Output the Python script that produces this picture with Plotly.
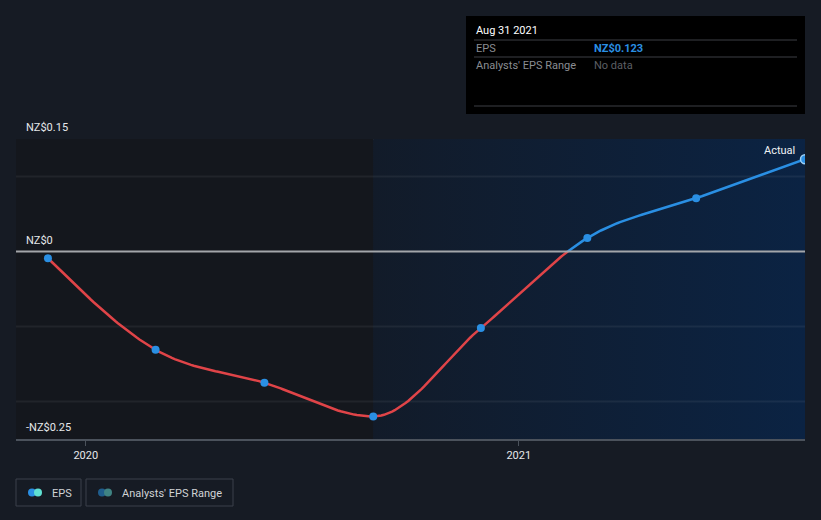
import numpy as np
import pandas as pd
import plotly.graph_objects as go

# ---- data ----
dates = ["2019-11-30", "2020-02-29", "2020-05-31", "2020-08-31",
         "2020-11-30", "2021-02-28", "2021-05-31", "2021-08-31"]
eps = [-0.009, -0.131, -0.175, -0.220, -0.102, 0.018, 0.071, 0.123]
x_ticks = ["2020-01-01", "2021-01-01"]
x_tick_text = ["2020", "2021"]
y_labels = [0.15, 0, -0.25]
y_label_text = ["NZ$0.15", "NZ$0", "-NZ$0.25"]
x_start = "2019-11-03"
forecast_start = "2020-08-31"

BG = "#161b24"
RED = "#e04448"
BLUE = "#2a8fe3"

dt = pd.to_datetime(dates)
t0 = pd.Timestamp(x_start)
xd = np.array([(d - t0).days for d in dt], dtype=float)
yv = np.array(eps, dtype=float)

# monotone cubic (d3 curveMonotoneX) in day space
n = len(xd)
h = np.diff(xd)
s = np.diff(yv) / h
m = np.zeros(n)
for i in range(1, n - 1):
    p = (s[i - 1] * h[i] + s[i] * h[i - 1]) / (h[i - 1] + h[i])
    m[i] = (np.sign(s[i - 1]) + np.sign(s[i])) * min(abs(s[i - 1]), abs(s[i]), 0.5 * abs(p))
m[0] = (3 * s[0] - m[1]) / 2
m[-1] = (3 * s[-1] - m[-2]) / 2

cx, cy = [], []
for i in range(n - 1):
    tt = np.linspace(0, 1, 40, endpoint=(i == n - 2))
    h00 = 2 * tt**3 - 3 * tt**2 + 1
    h10 = tt**3 - 2 * tt**2 + tt
    h01 = -2 * tt**3 + 3 * tt**2
    h11 = tt**3 - tt**2
    cx.extend(xd[i] + tt * h[i])
    cy.extend(h00 * yv[i] + h10 * h[i] * m[i] + h01 * yv[i + 1] + h11 * h[i] * m[i + 1])
cx = np.array(cx)
cy = np.array(cy)

# split at zero crossing
k = np.where((cy[:-1] < 0) & (cy[1:] >= 0))[0][0]
xz = cx[k] + (0 - cy[k]) * (cx[k + 1] - cx[k]) / (cy[k + 1] - cy[k])
red_x = list(cx[:k + 1]) + [xz]
red_y = list(cy[:k + 1]) + [0.0]
blue_x = [xz] + list(cx[k + 1:])
blue_y = [0.0] + list(cy[k + 1:])


def to_date(arr):
    return [t0 + pd.Timedelta(days=float(v)) for v in arr]


fig = go.Figure()

# forecast-side gradient background
fig.add_trace(go.Scatter(
    x=[forecast_start, dates[-1], dates[-1], forecast_start, forecast_start],
    y=[-0.25, -0.25, 0.15, 0.15, -0.25],
    mode="lines", line=dict(width=0), fill="toself",
    fillgradient=dict(type="horizontal",
                      colorscale=[[0, "#121b29"], [1, "#0b2343"]]),
    hoverinfo="skip", showlegend=False))

# gridlines drawn over the background
for gv in [0.1, -0.1, -0.2]:
    fig.add_trace(go.Scatter(x=[x_start, dates[-1]], y=[gv, gv], mode="lines",
                             line=dict(color="rgba(255,255,255,0.06)", width=2),
                             hoverinfo="skip", showlegend=False))

fig.add_trace(go.Scatter(x=to_date(red_x), y=red_y, mode="lines",
                         line=dict(color=RED, width=2.5), hoverinfo="skip",
                         showlegend=False))
fig.add_trace(go.Scatter(x=to_date(blue_x), y=blue_y, mode="lines",
                         line=dict(color=BLUE, width=2.5), hoverinfo="skip",
                         showlegend=False))
fig.add_trace(go.Scatter(x=dates[:-1], y=eps[:-1], mode="markers",
                         marker=dict(color=BLUE, size=8), showlegend=False))
fig.add_trace(go.Scatter(x=dates[-1:], y=eps[-1:], mode="markers",
                         marker=dict(color=BLUE, size=9,
                                     line=dict(color="#9fd0f5", width=1.5)),
                         showlegend=False))

shapes = [
    # historical darker region
    dict(type="rect", xref="x", yref="y", x0=x_start, x1=forecast_start,
         y0=-0.25, y1=0.15, fillcolor="#14171d", line=dict(width=0), layer="below"),
    dict(type="line", xref="paper", yref="y", x0=0, x1=1, y0=0.15, y1=0.15,
         line=dict(color="#4b525c", width=1.5), layer="below"),
    dict(type="line", xref="paper", yref="y", x0=0, x1=1, y0=0, y1=0,
         line=dict(color="#a3a6aa", width=2), layer="above"),
    # tooltip box
    dict(type="rect", xref="paper", yref="paper", x0=(466 - 16) / 789, x1=(805 - 16) / 789,
         y0=(439 - 114) / 300, y1=(439 - 16) / 300, fillcolor="#000000",
         line=dict(width=0)),
]
for yy in [40, 57, 106]:
    shapes.append(dict(type="line", xref="paper", yref="paper",
                       x0=(474 - 16) / 789, x1=(797 - 16) / 789,
                       y0=(439 - yy) / 300, y1=(439 - yy) / 300,
                       line=dict(color="#3c3f44", width=1)))
# legend boxes
for x0p, x1p in [(16, 81), (86, 233)]:
    shapes.append(dict(type="rect", xref="paper", yref="paper",
                       x0=(x0p - 16) / 789, x1=(x1p - 16) / 789,
                       y0=(439 - 506) / 300, y1=(439 - 479) / 300,
                       line=dict(color="#3b414b", width=1), fillcolor="rgba(0,0,0,0)"))
# legend dots
for cxp, col in [(32, "#2a8fe3"), (38, "#5fe0d2"), (102, "#1f5d8c"), (108, "#3f8383")]:
    shapes.append(dict(type="circle", xref="paper", yref="paper",
                       x0=(cxp - 4 - 16) / 789, x1=(cxp + 4 - 16) / 789,
                       y0=(439 - 496.5) / 300, y1=(439 - 488.5) / 300,
                       fillcolor=col, line=dict(width=0)))

FONT = "Roboto, Noto Sans, sans-serif"
ann = []
for v, txt in zip(y_labels, y_label_text):
    ann.append(dict(xref="paper", yref="y", x=(24 - 16) / 789, y=v, text=txt,
                    showarrow=False, xanchor="left", yanchor="bottom", yshift=3,
                    font=dict(color="#e6e8ea", size=11, family=FONT)))
ann.append(dict(xref="x", yref="y", x=dates[-1], y=eps[-1], text="Actual",
                showarrow=False, xanchor="right", yanchor="bottom", xshift=-8, yshift=0,
                font=dict(color="#f0f2f4", size=11, family=FONT)))


def pann(px, py, text, color, size=11, bold=False):
    return dict(xref="paper", yref="paper", x=(px - 16) / 789, y=(439 - py) / 300,
                text=("<b>%s</b>" % text) if bold else text, showarrow=False,
                xanchor="left", yanchor="middle",
                font=dict(color=color, size=size, family=FONT))


ann += [
    pann(474, 31, "Aug 31 2021", "#ffffff"),
    pann(474, 48, "EPS", "#8a8d92"),
    pann(592, 48, "NZ$0.123", "#2a8fe3", bold=True),
    pann(474, 65, "Analysts' EPS Range", "#8a8d92"),
    pann(592, 65, "No data", "#5c5f64"),
    pann(50, 493, "EPS", "#d0d3d6"),
    pann(120, 493, "Analysts' EPS Range", "#d0d3d6"),
]

fig.update_layout(
    width=821, height=520,
    margin=dict(l=16, r=16, t=139, b=81),
    paper_bgcolor=BG, plot_bgcolor=BG,
    shapes=shapes, annotations=ann, showlegend=False,
    xaxis=dict(type="date", range=[x_start, dates[-1]], tickvals=x_ticks,
               ticktext=x_tick_text, showgrid=False, zeroline=False,
               showline=True, linecolor="#4b525c", linewidth=1.5,
               ticks="outside", ticklen=5, tickcolor="#4b525c",
               tickfont=dict(color="#e6e8ea", size=11, family=FONT)),
    yaxis=dict(range=[-0.25, 0.15], showticklabels=False, showgrid=False,
               zeroline=False, showline=False),
    hovermode=False,
)

fig.write_html("out.html")
